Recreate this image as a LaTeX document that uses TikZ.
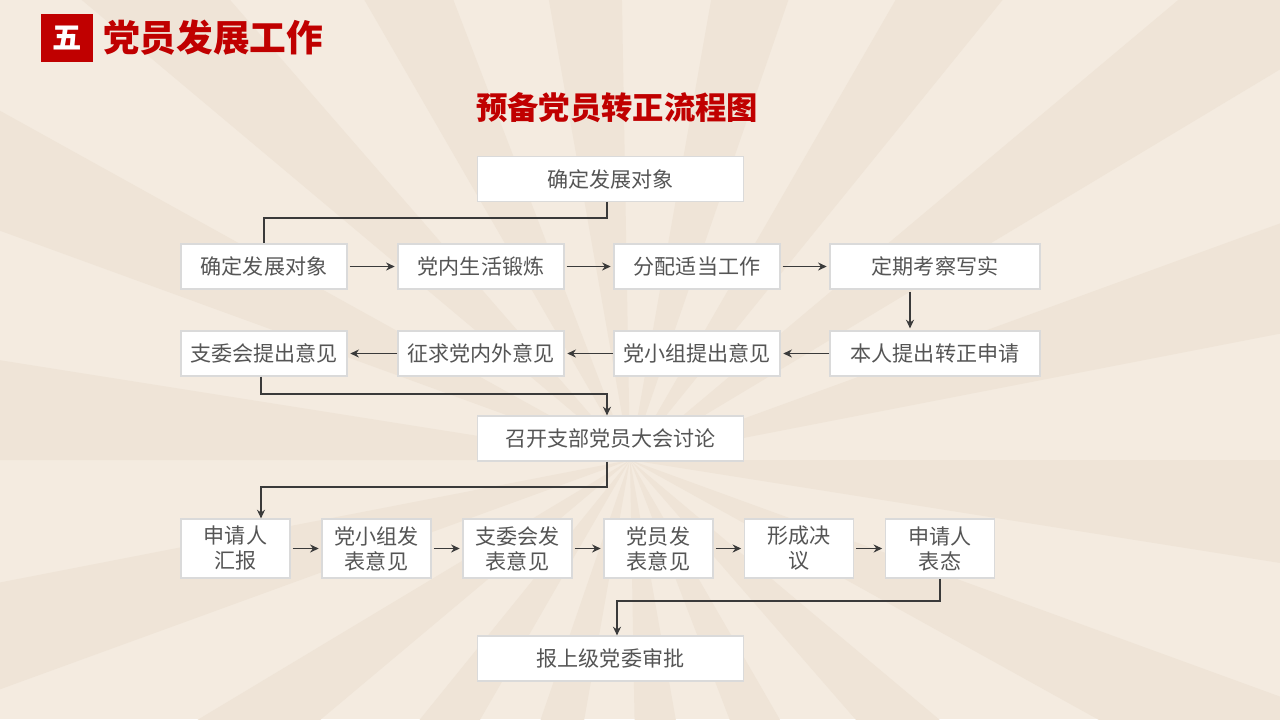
\documentclass[tikz,border=0pt]{standalone}
\usepackage{fontspec}
\newfontfamily\cjk{Noto Sans CJK SC}
\usetikzlibrary{arrows.meta,calc}
\definecolor{bgbase}{HTML}{F4EBE0}
\definecolor{bgray}{HTML}{EFE4D7}
\definecolor{hred}{HTML}{C00000}
\definecolor{txtgray}{HTML}{555555}
\definecolor{boxline}{HTML}{DADADA}
\definecolor{arr}{HTML}{3A3A3A}
\tikzset{
  stepbox/.style={draw=boxline, line width=0.9pt, fill=white, text=txtgray,
    font=\cjk\fontsize{15.8pt}{18.75pt}\selectfont, align=center, inner sep=0pt},
  conn/.style={draw=arr, line width=1.1pt},
  arrconn/.style={conn, -{Stealth[length=6.5pt,width=6pt]}},
}
\begin{document}
\begin{tikzpicture}[x=0.75pt,y=-0.75pt]
\useasboundingbox (0,0) rectangle (1280,719);
% background
\begin{scope}
\clip (0,0) rectangle (1280,719);
\fill[bgbase] (0,0) rectangle (1280,719);
\foreach \a in {0,20,...,340}{
  \fill[bgray] (630,460) -- ++(\a:1600) -- ++(\a+90:{1600*tan(9)}) -- cycle;
}
\end{scope}
% header
\node[fill=hred, minimum width=39pt, minimum height=36pt, inner sep=0pt, text=white,
  font=\cjk\bfseries\fontsize{22pt}{24pt}\selectfont] (hdrbox) at (67,38) {五};
\node[anchor=west, text=hred, inner sep=0pt, font=\cjk\bfseries\fontsize{27.5pt}{30pt}\selectfont] (hdr) at (103,38) {党员发展工作};
\node[text=hred, inner sep=0pt, font=\cjk\bfseries\fontsize{23.5pt}{26pt}\selectfont] (title) at (617,108) {预备党员转正流程图};
% boxes
\node[stepbox, minimum width=200pt, minimum height=33.5pt] (top) at (610.5,179) {确定发展对象};
\node[stepbox, minimum width=124.5pt, minimum height=33.75pt] (r1a) at (264,266.5) {确定发展对象};
\node[stepbox, minimum width=124.5pt, minimum height=33.75pt] (r1b) at (481,266.5) {党内生活锻炼};
\node[stepbox, minimum width=124.5pt, minimum height=33.75pt] (r1c) at (697,266.5) {分配适当工作};
\node[stepbox, minimum width=157.5pt, minimum height=33.75pt] (r1d) at (935,266.5) {定期考察写实};
\node[stepbox, minimum width=124.5pt, minimum height=33.75pt] (r2a) at (264,353.5) {支委会提出意见};
\node[stepbox, minimum width=124.5pt, minimum height=33.75pt] (r2b) at (481,353.5) {征求党内外意见};
\node[stepbox, minimum width=124.5pt, minimum height=33.75pt] (r2c) at (697,353.5) {党小组提出意见};
\node[stepbox, minimum width=157.5pt, minimum height=33.75pt] (r2d) at (935,353.5) {本人提出转正申请};
\node[stepbox, minimum width=200pt, minimum height=33.75pt] (meet) at (610.5,438.5) {召开支部党员大会讨论};
\node[stepbox, minimum width=81.75pt, minimum height=44.25pt] (r3a) at (235.5,548.5) {申请人\\汇报};
\node[stepbox, minimum width=81.75pt, minimum height=44.25pt] (r3b) at (376.5,548.5) {党小组发\\表意见};
\node[stepbox, minimum width=81.75pt, minimum height=44.25pt] (r3c) at (517.5,548.5) {支委会发\\表意见};
\node[stepbox, minimum width=81.75pt, minimum height=44.25pt] (r3d) at (658.5,548.5) {党员发\\表意见};
\node[stepbox, minimum width=81.75pt, minimum height=44.25pt] (r3e) at (799,548.5) {形成决\\议};
\node[stepbox, minimum width=81.75pt, minimum height=44.25pt] (r3f) at (940,548.5) {申请人\\表态};
\node[stepbox, minimum width=200pt, minimum height=33.75pt] (final) at (610.5,658.5) {报上级党委审批};
% connectors
\coordinate (k1) at (607,218);
\draw[conn] (top.south -| k1) -- (k1) -| (r1a.north);
\draw[arrconn, shorten <=1.5pt, shorten >=2pt] (r1a) -- (r1b);
\draw[arrconn, shorten <=1.5pt, shorten >=2pt] (r1b) -- (r1c);
\draw[arrconn, shorten <=1.5pt, shorten >=2pt] (r1c) -- (r1d);
\coordinate (k2) at (910,300);
\draw[arrconn, shorten <=1.5pt, shorten >=1.5pt] (r1d.south -| k2) -- (r2d.north -| k2);
\draw[arrconn, shorten >=2pt] (r2d) -- (r2c);
\draw[arrconn, shorten >=2pt] (r2c) -- (r2b);
\draw[arrconn, shorten >=2pt] (r2b) -- (r2a);
\coordinate (k3) at (261,394);
\coordinate (k4) at (607,394);
\draw[arrconn] (r2a.south -| k3) -- (k3) -- (k4) -- (meet.north -| k4);
\coordinate (k5) at (607,487);
\coordinate (k6) at (261,487);
\draw[arrconn] (meet.south -| k5) -- (k5) -- (k6) -- (r3a.north -| k6);
\draw[arrconn, shorten <=1.5pt, shorten >=2pt] (r3a) -- (r3b);
\draw[arrconn, shorten <=1.5pt, shorten >=2pt] (r3b) -- (r3c);
\draw[arrconn, shorten <=1.5pt, shorten >=2pt] (r3c) -- (r3d);
\draw[arrconn, shorten <=1.5pt, shorten >=2pt] (r3d) -- (r3e);
\draw[arrconn, shorten <=1.5pt, shorten >=2pt] (r3e) -- (r3f);
\coordinate (k7) at (940,601);
\coordinate (k8) at (617,601);
\draw[arrconn] (r3f.south -| k7) -- (k7) -- (k8) -- (final.north -| k8);
\end{tikzpicture}
\end{document}
